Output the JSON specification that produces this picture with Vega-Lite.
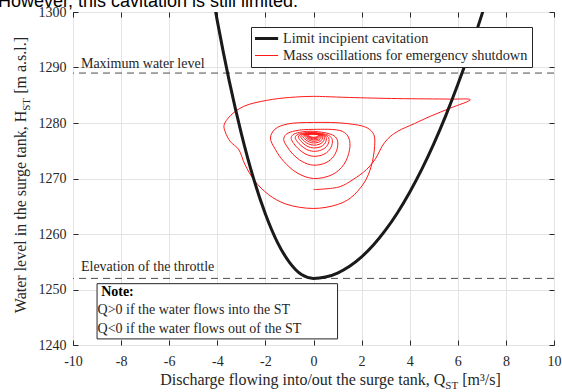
{
  "$schema": "https://vega.github.io/schema/vega-lite/v6.json",
  "width": 481,
  "height": 333,
  "autosize": {"type": "none"},
  "padding": {"left": 73, "top": 12, "right": 8, "bottom": 47},
  "background": "white",
  "data": {"values": [{}]},
  "config": {
    "font": "Liberation Serif",
    "view": {"stroke": "#262626", "strokeWidth": 1},
    "legend": {"orient": "none", "legendX": 178, "legendY": 15, "symbolType": "stroke", "symbolSize": 1024, "symbolOffset": 0, "clipHeight": 15, "rowPadding": 2, "padding": 4, "strokeColor": "#262626", "fillColor": "white", "labelFont": "Liberation Serif", "labelFontSize": 14.3, "labelColor": "#262626", "labelLimit": 400, "labelOffset": 13.7}
  },
  "datasets": {
    "cav": [
      {"q": -4.2, "h": 1303.2}, {"q": -4.0, "h": 1298.4}, {"q": -3.5, "h": 1287.5}, {"q": -3.0, "h": 1278.1}, {"q": -2.5, "h": 1270.1}, {"q": -2.0, "h": 1263.6}, {"q": -1.5, "h": 1258.5}, {"q": -1.0, "h": 1254.9}, {"q": -0.5, "h": 1252.7}, {"q": 0, "h": 1252.0}, {"q": 0.5, "h": 1252.24}, {"q": 1.0, "h": 1252.97}, {"q": 1.5, "h": 1254.18}, {"q": 2.0, "h": 1255.88}, {"q": 2.5, "h": 1258.06}, {"q": 3.0, "h": 1260.73}, {"q": 3.5, "h": 1263.88}, {"q": 4.0, "h": 1267.52}, {"q": 4.5, "h": 1271.64}, {"q": 5.0, "h": 1276.25}, {"q": 5.5, "h": 1281.34}, {"q": 6.0, "h": 1286.92}, {"q": 6.5, "h": 1292.98}, {"q": 7.0, "h": 1299.53}, {"q": 7.3, "h": 1303.7}
    ],
    "osc": [
      {"i": 1, "q": 0, "h": 1268.0}, {"i": 2, "q": 1.08, "h": 1268.5}, {"i": 3, "q": 1.64, "h": 1269.8}, {"i": 4, "q": 2.2, "h": 1271.6}, {"i": 5, "q": 2.6, "h": 1273.7}, {"i": 6, "q": 2.85, "h": 1275.8}, {"i": 7, "q": 3.1, "h": 1277.2}, {"i": 8, "q": 3.5, "h": 1278.5}, {"i": 9, "q": 4.2, "h": 1279.9}, {"i": 10, "q": 4.85, "h": 1281.2}, {"i": 11, "q": 5.7, "h": 1282.7}, {"i": 12, "q": 6.52, "h": 1284.2},
      {"i": 13, "q": 5.7, "h": 1284.3}, {"i": 14, "q": 3.5, "h": 1284.4}, {"i": 15, "q": 1.5, "h": 1284.6}, {"i": 16, "q": 0.5, "h": 1284.75}, {"i": 17, "q": 0, "h": 1284.8}, {"i": 18, "q": -1.0, "h": 1284.6}, {"i": 19, "q": -1.92, "h": 1284.1}, {"i": 20, "q": -2.9, "h": 1283.0}, {"i": 21, "q": -3.46, "h": 1281.3}, {"i": 22, "q": -3.72, "h": 1279.6}, {"i": 23, "q": -3.67, "h": 1278.4}, {"i": 24, "q": -3.45, "h": 1276.6}, {"i": 25, "q": -3.12, "h": 1275.3}, {"i": 26, "q": -2.86, "h": 1272.6}, {"i": 27, "q": -2.45, "h": 1269.6}, {"i": 28, "q": -1.87, "h": 1267.1}, {"i": 29, "q": -1.15, "h": 1265.4}, {"i": 30, "q": 0, "h": 1264.6}, {"i": 31, "q": 0.99, "h": 1265.3}, {"i": 32, "q": 1.54, "h": 1266.5}, {"i": 33, "q": 2.1, "h": 1269.2}, {"i": 34, "q": 2.4, "h": 1272.2}, {"i": 35, "q": 2.54, "h": 1275.8}, {"i": 36, "q": 2.51, "h": 1277.9}, {"i": 37, "q": 2.24, "h": 1279.1}, {"i": 38, "q": 1.4, "h": 1279.9},
      {"i": 39, "q": 0, "h": 1280.1}, {"i": 40, "q": -1.1, "h": 1279.8}, {"i": 41, "q": -1.6, "h": 1278.9}, {"i": 42, "q": -1.79, "h": 1277.3}, {"i": 43, "q": -1.58, "h": 1275.2}, {"i": 44, "q": -1.24, "h": 1273.1}, {"i": 45, "q": -0.68, "h": 1271.0}, {"i": 46, "q": 0, "h": 1270.0}, {"i": 47, "q": 0.78, "h": 1270.7}, {"i": 48, "q": 1.26, "h": 1272.5}, {"i": 49, "q": 1.5, "h": 1275.2}, {"i": 50, "q": 1.47, "h": 1277.3}, {"i": 51, "q": 1.2, "h": 1278.5},
      {"i": 52, "q": 0, "h": 1278.85}, {"i": 53, "q": -0.76, "h": 1278.59}, {"i": 54, "q": -1.14, "h": 1277.95}, {"i": 55, "q": -1.24, "h": 1277.04}, {"i": 56, "q": -1.09, "h": 1275.69}, {"i": 57, "q": -0.86, "h": 1274.4}, {"i": 58, "q": -0.47, "h": 1273.05}, {"i": 59, "q": 0, "h": 1272.4}, {"i": 60, "q": 0.52, "h": 1272.85}, {"i": 61, "q": 0.84, "h": 1274.0}, {"i": 62, "q": 1.0, "h": 1275.69}, {"i": 63, "q": 0.98, "h": 1277.04}, {"i": 64, "q": 0.8, "h": 1277.82},
      {"i": 65, "q": 0, "h": 1278.5}, {"i": 66, "q": -0.57, "h": 1278.32}, {"i": 67, "q": -0.86, "h": 1277.87}, {"i": 68, "q": -0.93, "h": 1277.24}, {"i": 69, "q": -0.82, "h": 1276.3}, {"i": 70, "q": -0.64, "h": 1275.4}, {"i": 71, "q": -0.35, "h": 1274.45}, {"i": 72, "q": 0, "h": 1274.0}, {"i": 73, "q": 0.41, "h": 1274.32}, {"i": 74, "q": 0.66, "h": 1275.13}, {"i": 75, "q": 0.78, "h": 1276.3}, {"i": 76, "q": 0.76, "h": 1277.24}, {"i": 77, "q": 0.62, "h": 1277.78},
      {"i": 78, "q": 0, "h": 1278.3}, {"i": 79, "q": -0.46, "h": 1278.16}, {"i": 80, "q": -0.7, "h": 1277.82}, {"i": 81, "q": -0.76, "h": 1277.35}, {"i": 82, "q": -0.67, "h": 1276.63}, {"i": 83, "q": -0.52, "h": 1275.95}, {"i": 84, "q": -0.29, "h": 1275.24}, {"i": 85, "q": 0, "h": 1274.9}, {"i": 86, "q": 0.33, "h": 1275.14}, {"i": 87, "q": 0.54, "h": 1275.75}, {"i": 88, "q": 0.64, "h": 1276.63}, {"i": 89, "q": 0.63, "h": 1277.35}, {"i": 90, "q": 0.51, "h": 1277.76},
      {"i": 91, "q": 0, "h": 1278.2}, {"i": 92, "q": -0.38, "h": 1278.09}, {"i": 93, "q": -0.58, "h": 1277.82}, {"i": 94, "q": -0.63, "h": 1277.44}, {"i": 95, "q": -0.55, "h": 1276.88}, {"i": 96, "q": -0.43, "h": 1276.34}, {"i": 97, "q": -0.24, "h": 1275.77}, {"i": 98, "q": 0, "h": 1275.5}, {"i": 99, "q": 0.28, "h": 1275.69}, {"i": 100, "q": 0.45, "h": 1276.18}, {"i": 101, "q": 0.53, "h": 1276.88}, {"i": 102, "q": 0.52, "h": 1277.44}, {"i": 103, "q": 0.42, "h": 1277.77},
      {"i": 104, "q": 0, "h": 1278.15}, {"i": 105, "q": -0.32, "h": 1278.06}, {"i": 106, "q": -0.49, "h": 1277.85}, {"i": 107, "q": -0.53, "h": 1277.55}, {"i": 108, "q": -0.47, "h": 1277.1}, {"i": 109, "q": -0.37, "h": 1276.67}, {"i": 110, "q": -0.2, "h": 1276.22}, {"i": 111, "q": 0, "h": 1276.0}, {"i": 112, "q": 0.23, "h": 1276.15}, {"i": 113, "q": 0.38, "h": 1276.54}, {"i": 114, "q": 0.45, "h": 1277.1}, {"i": 115, "q": 0.44, "h": 1277.55}, {"i": 116, "q": 0.36, "h": 1277.81},
      {"i": 117, "q": 0, "h": 1278.1}, {"i": 118, "q": -0.27, "h": 1278.03}, {"i": 119, "q": -0.41, "h": 1277.86}, {"i": 120, "q": -0.45, "h": 1277.62}, {"i": 121, "q": -0.4, "h": 1277.27}, {"i": 122, "q": -0.31, "h": 1276.93}, {"i": 123, "q": -0.17, "h": 1276.57}, {"i": 124, "q": 0, "h": 1276.4}, {"i": 125, "q": 0.2, "h": 1276.52}, {"i": 126, "q": 0.32, "h": 1276.83}, {"i": 127, "q": 0.38, "h": 1277.27}, {"i": 128, "q": 0.37, "h": 1277.62}, {"i": 129, "q": 0.3, "h": 1277.83},
      {"i": 130, "q": 0, "h": 1278.07}, {"i": 131, "q": -0.23, "h": 1278.02}, {"i": 132, "q": -0.35, "h": 1277.88}, {"i": 133, "q": -0.38, "h": 1277.69}, {"i": 134, "q": -0.33, "h": 1277.4}, {"i": 135, "q": -0.26, "h": 1277.12}, {"i": 136, "q": -0.14, "h": 1276.84}, {"i": 137, "q": 0, "h": 1276.7}, {"i": 138, "q": 0.17, "h": 1276.8}, {"i": 139, "q": 0.27, "h": 1277.04}, {"i": 140, "q": 0.32, "h": 1277.4}, {"i": 141, "q": 0.31, "h": 1277.69}, {"i": 142, "q": 0.26, "h": 1277.85},
      {"i": 143, "q": 0, "h": 1278.05}, {"i": 144, "q": -0.2, "h": 1278.0}, {"i": 145, "q": -0.3, "h": 1277.9}, {"i": 146, "q": -0.33, "h": 1277.74}, {"i": 147, "q": -0.29, "h": 1277.51}, {"i": 148, "q": -0.23, "h": 1277.29}, {"i": 149, "q": -0.13, "h": 1277.06}, {"i": 150, "q": 0, "h": 1276.95}, {"i": 151, "q": 0.15, "h": 1277.03}, {"i": 152, "q": 0.24, "h": 1277.23}, {"i": 153, "q": 0.28, "h": 1277.51}, {"i": 154, "q": 0.27, "h": 1277.74}, {"i": 155, "q": 0.22, "h": 1277.87},
      {"i": 156, "q": 0, "h": 1278.03}, {"i": 157, "q": -0.18, "h": 1277.99}, {"i": 158, "q": -0.27, "h": 1277.91}, {"i": 159, "q": -0.29, "h": 1277.78}, {"i": 160, "q": -0.26, "h": 1277.6}, {"i": 161, "q": -0.2, "h": 1277.42}, {"i": 162, "q": -0.11, "h": 1277.24}, {"i": 163, "q": 0, "h": 1277.15}, {"i": 164, "q": 0.12, "h": 1277.21}, {"i": 165, "q": 0.2, "h": 1277.37}, {"i": 166, "q": 0.24, "h": 1277.6}, {"i": 167, "q": 0.24, "h": 1277.78}, {"i": 168, "q": 0.19, "h": 1277.89},
      {"i": 169, "q": 0, "h": 1278.02}, {"i": 170, "q": -0.16, "h": 1277.99}, {"i": 171, "q": -0.24, "h": 1277.92}, {"i": 172, "q": -0.26, "h": 1277.82}, {"i": 173, "q": -0.23, "h": 1277.67}, {"i": 174, "q": -0.18, "h": 1277.52}, {"i": 175, "q": -0.1, "h": 1277.37}, {"i": 176, "q": 0, "h": 1277.3}, {"i": 177, "q": 0.11, "h": 1277.35}, {"i": 178, "q": 0.18, "h": 1277.48}, {"i": 179, "q": 0.21, "h": 1277.67}, {"i": 180, "q": 0.21, "h": 1277.82}, {"i": 181, "q": 0.17, "h": 1277.9},
      {"i": 182, "q": 0, "h": 1278.0}, {"i": 183, "q": -0.14, "h": 1277.98}, {"i": 184, "q": -0.21, "h": 1277.92}, {"i": 185, "q": -0.23, "h": 1277.84}, {"i": 186, "q": -0.2, "h": 1277.72}, {"i": 187, "q": -0.16, "h": 1277.6}, {"i": 188, "q": -0.09, "h": 1277.48}, {"i": 189, "q": 0, "h": 1277.42}, {"i": 190, "q": 0.1, "h": 1277.46}, {"i": 191, "q": 0.16, "h": 1277.56}, {"i": 192, "q": 0.19, "h": 1277.72}
    ]
  },
  "resolve": {"axis": {"x": "independent", "y": "independent"}},
  "layer": [
    {
      "mark": {"type": "rule", "strokeDash": [7, 5], "color": "#4d4d4d", "strokeWidth": 1},
      "encoding": {"y": {"datum": 1289, "type": "quantitative", "axis": null}}
    },
    {
      "mark": {"type": "rule", "strokeDash": [7, 5], "color": "#4d4d4d", "strokeWidth": 1},
      "encoding": {"y": {"datum": 1252, "type": "quantitative", "axis": null}}
    },
    {
      "mark": {"type": "text", "text": "Maximum water level", "align": "left", "baseline": "alphabetic", "font": "Liberation Serif", "fontSize": 14, "color": "#262626"},
      "encoding": {"x": {"datum": -9.67, "type": "quantitative", "axis": null}, "y": {"datum": 1290.0, "type": "quantitative", "axis": null}}
    },
    {
      "mark": {"type": "text", "text": "Elevation of the throttle", "align": "left", "baseline": "alphabetic", "font": "Liberation Serif", "fontSize": 14, "color": "#262626"},
      "encoding": {"x": {"datum": -9.67, "type": "quantitative", "axis": null}, "y": {"datum": 1253.3, "type": "quantitative", "axis": null}}
    },
    {
      "data": {"name": "osc"},
      "mark": {"type": "line", "interpolate": "catmull-rom", "clip": true, "strokeWidth": 1},
      "encoding": {
        "x": {"field": "q", "type": "quantitative", "axis": {"orient": "top", "values": [-10, -8, -6, -4, -2, 0, 2, 4, 6, 8, 10], "grid": false, "labels": false, "domain": false, "tickSize": -5, "tickColor": "#262626", "title": null}},
        "y": {"field": "h", "type": "quantitative", "axis": {"orient": "right", "values": [1240, 1250, 1260, 1270, 1280, 1290, 1300], "grid": false, "labels": false, "domain": false, "tickSize": -5, "tickColor": "#262626", "title": null}},
        "order": {"field": "i"},
        "color": {"datum": "Mass oscillations for emergency shutdown", "type": "nominal", "legend": {"title": null}}
      }
    },
    {
      "data": {"name": "cav"},
      "mark": {"type": "line", "interpolate": "monotone", "clip": true, "strokeWidth": 3},
      "encoding": {
        "x": {"field": "q", "type": "quantitative", "scale": {"domain": [-10, 10], "nice": false, "zero": false}, "axis": {"orient": "bottom", "values": [-10, -8, -6, -4, -2, 0, 2, 4, 6, 8, 10], "grid": true, "gridColor": "#e3e3e3", "domain": false, "tickSize": -5, "tickColor": "#262626", "labelFont": "Liberation Serif", "labelFontSize": 14, "labelColor": "#262626", "labelPadding": 14, "labelFlush": false, "labelExpr": "toString(datum.value)", "title": null}},
        "y": {"field": "h", "type": "quantitative", "scale": {"domain": [1240, 1300], "nice": false, "zero": false}, "axis": {"orient": "left", "values": [1240, 1250, 1260, 1270, 1280, 1290, 1300], "grid": true, "gridColor": "#e3e3e3", "domain": false, "tickSize": -5, "tickColor": "#262626", "labelFont": "Liberation Serif", "labelFontSize": 14, "labelColor": "#262626", "labelPadding": 12, "labelExpr": "toString(datum.value)", "title": null}},
        "color": {"datum": "Limit incipient cavitation", "type": "nominal", "scale": {"domain": ["Limit incipient cavitation", "Mass oscillations for emergency shutdown"], "range": ["#1a1a1a", "#ff1a1a"]}, "legend": {"title": null, "encode": {"symbols": {"update": {"strokeWidth": {"signal": "datum.value === 'Limit incipient cavitation' ? 3 : 1"}}}}}}
      }
    },
    {
      "mark": {"type": "rect", "fill": "white", "stroke": "#262626", "strokeWidth": 1},
      "encoding": {"x": {"datum": -9.0, "type": "quantitative", "axis": null}, "x2": {"datum": 1.0}, "y": {"datum": 1251.05, "type": "quantitative", "axis": null}, "y2": {"datum": 1241.1}}
    },
    {
      "mark": {"type": "text", "text": "Note:", "align": "left", "baseline": "alphabetic", "font": "Liberation Serif", "fontSize": 14, "fontWeight": "bold", "color": "#000000"},
      "encoding": {"x": {"datum": -8.83, "type": "quantitative", "axis": null}, "y": {"datum": 1248.8, "type": "quantitative", "axis": null}}
    },
    {
      "mark": {"type": "text", "text": "Q>0 if the water flows into the ST", "align": "left", "baseline": "alphabetic", "font": "Liberation Serif", "fontSize": 14, "color": "#262626"},
      "encoding": {"x": {"datum": -8.98, "type": "quantitative", "axis": null}, "y": {"datum": 1245.5, "type": "quantitative", "axis": null}}
    },
    {
      "mark": {"type": "text", "text": "Q<0 if the water flows out of the ST", "align": "left", "baseline": "alphabetic", "font": "Liberation Serif", "fontSize": 14, "color": "#262626"},
      "encoding": {"x": {"datum": -8.98, "type": "quantitative", "axis": null}, "y": {"datum": 1242.2, "type": "quantitative", "axis": null}}
    },
    {
      "mark": {"type": "text", "text": "Discharge flowing into/out the surge tank, Q", "align": "right", "baseline": "alphabetic", "font": "Liberation Serif", "fontSize": 16, "color": "#262626", "dy": 40},
      "encoding": {"x": {"datum": 5.48, "type": "quantitative", "axis": null}, "y": {"datum": 1240, "type": "quantitative", "axis": null}}
    },
    {
      "mark": {"type": "text", "text": "ST", "align": "left", "baseline": "alphabetic", "font": "Liberation Serif", "fontSize": 11, "color": "#262626", "dy": 44},
      "encoding": {"x": {"datum": 5.48, "type": "quantitative", "axis": null}, "y": {"datum": 1240, "type": "quantitative", "axis": null}}
    },
    {
      "mark": {"type": "text", "text": "[m³/s]", "align": "left", "baseline": "alphabetic", "font": "Liberation Serif", "fontSize": 16, "color": "#262626", "dx": 17, "dy": 40},
      "encoding": {"x": {"datum": 5.48, "type": "quantitative", "axis": null}, "y": {"datum": 1240, "type": "quantitative", "axis": null}}
    },
    {
      "mark": {"type": "text", "text": "Water level in the surge tank, H", "angle": 270, "align": "right", "baseline": "alphabetic", "font": "Liberation Serif", "fontSize": 16, "color": "#262626", "dy": -47},
      "encoding": {"x": {"datum": -10, "type": "quantitative", "axis": null}, "y": {"datum": 1282.2, "type": "quantitative", "axis": null}}
    },
    {
      "mark": {"type": "text", "text": "ST", "angle": 270, "align": "left", "baseline": "alphabetic", "font": "Liberation Serif", "fontSize": 11, "color": "#262626", "dy": -43},
      "encoding": {"x": {"datum": -10, "type": "quantitative", "axis": null}, "y": {"datum": 1282.2, "type": "quantitative", "axis": null}}
    },
    {
      "mark": {"type": "text", "text": "[m a.s.l.]", "angle": 270, "align": "left", "baseline": "alphabetic", "font": "Liberation Serif", "fontSize": 16, "color": "#262626", "dx": 17, "dy": -47},
      "encoding": {"x": {"datum": -10, "type": "quantitative", "axis": null}, "y": {"datum": 1282.2, "type": "quantitative", "axis": null}}
    },
    {
      "mark": {"type": "text", "text": "However, this cavitation is still limited.", "align": "left", "baseline": "alphabetic", "font": "Liberation Sans", "fontSize": 18, "color": "#000000", "dx": -75, "dy": -5},
      "encoding": {"x": {"datum": -10, "type": "quantitative", "axis": null}, "y": {"datum": 1300, "type": "quantitative", "axis": null}}
    }
  ]
}
